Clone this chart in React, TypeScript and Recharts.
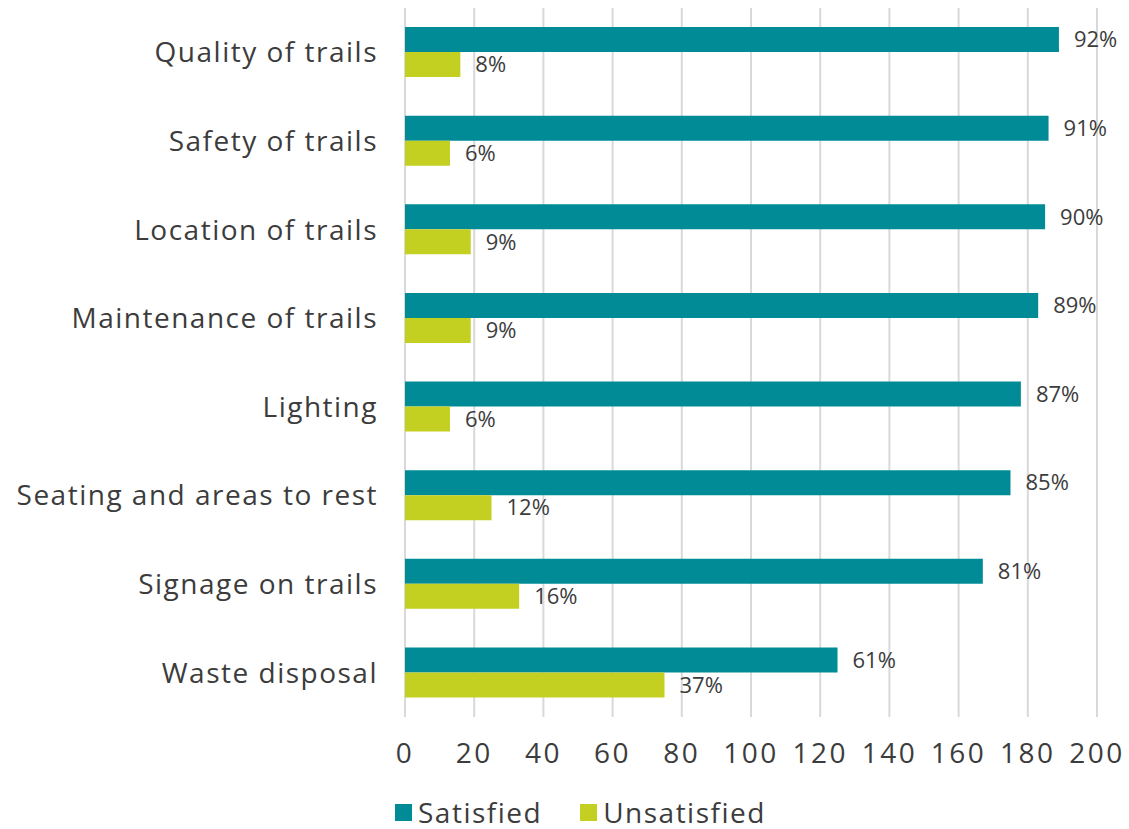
import { BarChart, Bar, XAxis, YAxis, CartesianGrid, Legend, LabelList } from 'recharts'

// Categories, top to bottom
const categories = [
    'Quality of trails',
    'Safety of trails',
    'Location of trails',
    'Maintenance of trails',
    'Lighting',
    'Seating and areas to rest',
    'Signage on trails',
    'Waste disposal',
]

// Response counts (bar lengths)
const satisfied = [189, 186, 185, 183, 178, 175, 167, 125]
const unsatisfied = [16, 13, 19, 19, 13, 25, 33, 75]

// Percent labels shown next to the bars
const satisfiedPct = ['92%', '91%', '90%', '89%', '87%', '85%', '81%', '61%']
const unsatisfiedPct = ['8%', '6%', '9%', '9%', '6%', '12%', '16%', '37%']

const xTicks = [0, 20, 40, 60, 80, 100, 120, 140, 160, 180, 200]

const colors = {
    satisfied: '#008B96',
    unsatisfied: '#C3CF21',
    text: '#3C3C3C',
    grid: '#D9D9D9',
}

const font = '"Open Sans", sans-serif'

const data = categories.map((name, i) => ({
    name,
    satisfied: satisfied[i],
    unsatisfied: unsatisfied[i],
    satisfiedLabel: satisfiedPct[i],
    unsatisfiedLabel: unsatisfiedPct[i],
}))

// Legend with square swatches
const LegendContent = () => {
    const items = [
        { label: 'Satisfied', color: colors.satisfied },
        { label: 'Unsatisfied', color: colors.unsatisfied },
    ]
    return (
        <div style={{ display: 'flex', alignItems: 'center', fontFamily: font, height: 26 }}>
            {items.map(item => (
                <div key={item.label} style={{ display: 'flex', alignItems: 'center', marginRight: 38 }}>
                    <div style={{ width: 17, height: 17, background: item.color, marginRight: 6 }} />
                    <span style={{ fontSize: 28, letterSpacing: 1.5, color: colors.text, lineHeight: '26px' }}>
                        {item.label}
                    </span>
                </div>
            ))}
        </div>
    )
}

export default function App() {
    return (
        <div style={{ position: 'absolute', left: 0, top: 0 }}>
            <BarChart
                width={1129}
                height={829}
                data={data}
                layout="vertical"
                margin={{ top: 8, right: 32, left: 0, bottom: 0 }}
                barSize={25}
                barGap={0}
            >
                <CartesianGrid horizontal={false} stroke={colors.grid} strokeWidth={2} />
                <XAxis
                    type="number"
                    domain={[0, 200]}
                    ticks={xTicks}
                    axisLine={false}
                    tickLine={false}
                    tickSize={0}
                    tickMargin={26}
                    height={86}
                    tick={{ fontSize: 28, letterSpacing: 2.5, fill: colors.text, fontFamily: font }}
                />
                <YAxis
                    type="category"
                    dataKey="name"
                    width={405}
                    axisLine={false}
                    tickLine={false}
                    tickSize={0}
                    tickMargin={27}
                    tick={{ fontSize: 28, letterSpacing: 1.5, fill: colors.text, fontFamily: font }}
                />
                <Bar dataKey="satisfied" fill={colors.satisfied} isAnimationActive={false}>
                    <LabelList
                        dataKey="satisfiedLabel"
                        position="right"
                        offset={15}
                        style={{ fontSize: 22, fill: colors.text, fontFamily: font }}
                    />
                </Bar>
                <Bar dataKey="unsatisfied" fill={colors.unsatisfied} isAnimationActive={false}>
                    <LabelList
                        dataKey="unsatisfiedLabel"
                        position="right"
                        offset={15}
                        style={{ fontSize: 22, fill: colors.text, fontFamily: font }}
                    />
                </Bar>
                <Legend
                    content={<LegendContent />}
                    wrapperStyle={{ position: 'absolute', left: 395, top: 799, width: 'auto' }}
                />
            </BarChart>
        </div>
    )
}
